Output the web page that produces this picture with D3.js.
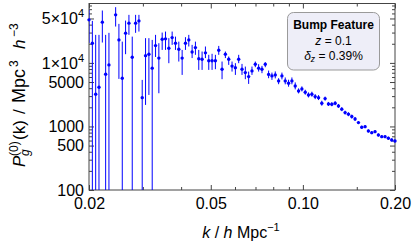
<!DOCTYPE html>
<html><head><meta charset="utf-8">
<script src="https://cdn.jsdelivr.net/npm/d3@7"></script>
<style>
body{margin:0;background:#fff}
svg{display:block}
text{font-family:"Liberation Sans",Arial,Helvetica,sans-serif}
</style>
</head><body>
<svg id="chart" width="413" height="243"></svg>
<script>
// ---------- data ----------
const kValues = [0.02000,0.02051,0.02103,0.02156,0.02211,0.02267,0.02324,0.02444,0.02505,0.02569,
0.02634,0.02701,0.02769,0.02840,0.02912,0.02985,0.03061,0.03139,0.03218,0.03300,
0.03383,0.03469,0.03557,0.03647,0.03739,0.03834,0.03931,0.04031,0.04133,0.04238,
0.04345,0.04455,0.04568,0.04684,0.04803,0.04925,0.05049,0.05177,0.05309,0.05443,
0.05581,0.05723,0.05868,0.06017,0.06169,0.06325,0.06485,0.06649,0.06818,0.06991,
0.07168,0.07350,0.07536,0.07727,0.07923,0.08124,0.08330,0.08541,0.08757,0.08979,
0.09207,0.09440,0.09680,0.09925,0.1018,0.1043,0.1070,0.1097,0.1125,0.1153,
0.1182,0.1212,0.1243,0.1275,0.1307,0.1340,0.1374,0.1409,0.1445,0.1481,
0.1519,0.1557,0.1597,0.1637,0.1679,0.1721,0.1765,0.1810,0.1856,0.1903,
0.1951,0.2000];
const power = [47550,20420,3210,4140,43750,6640,9300,57000,23000,5740,
29400,42200,12300,42200,45800,2840,13000,13700,8260,18700,
11900,23600,23900,17000,25000,20400,16400,11900,20400,23000,
14800,17400,11600,11400,14400,10800,10800,10800,15800,7960,
13700,11400,8900,8400,11400,7960,7040,6090,7480,9540,
8260,7960,9540,6590,6240,6470,5210,6240,5210,4790,
5210,4340,3620,3900,3460,3130,3210,2950,2840,2320,
2740,2260,2240,2320,2100,1870,1650,1560,1430,1310,
1150,971,993,849,799,828,735,691,691,652,
613,591];
const errHigh = [68400,45800,27600,27600,66700,27600,29700,75300,41100,21600,
46300,57000,25900,57000,57000,5400,24500,24500,23000,27600,
20400,30000,31100,24500,31100,25900,21600,16000,25400,27600,
19200,21600,16000,15100,18100,13400,13900,13400,18500,10500,
15100,12600,10500,9890,13400,9640,8750,7300,8750,10500,
9540,8980,10250,7570,7040,7340,5740,7040,5900,5430,
5900,4930,3970,4270,3780,3430,3520,3230,3110,2540,
2950,2430,2400,2490,2260,2010,1770,1670,1530,1410,
1210,1025,1050,895,845,875,775,730,730,690,
648,625];
const errLow = [20650,0,0,0,20900,0,0,37300,5600,0,
13700,27600,0,29700,31100,0,2180,3130,0,12400,
3330,16000,16000,9890,19200,16000,10500,6470,16000,18100,
11900,13400,7760,7760,11900,7760,7760,7960,13400,5540,
11900,9300,7300,6470,9890,6470,5540,4670,6470,8550,
7300,6890,8550,5740,5400,5700,4620,5500,4600,4220,
4600,3830,3310,3560,3160,2860,2940,2690,2600,2120,
2550,2100,2080,2160,1960,1740,1540,1450,1330,1220,
1090,920,940,805,755,785,695,655,655,618,
580,560];

const xTickMajor = [0.02, 0.05, 0.10, 0.20];
const xTickLabels = ["0.02", "0.05", "0.10", "0.20"];
const xTickMinor = [0.03, 0.04, 0.06, 0.07, 0.08, 0.09, 0.15];
const yTickMajor = [100, 500, 1000, 5000, 10000, 50000];
const yTickLabels = ["100", "500", "1000", "5000", "1×10^4", "5×10^4"];
const yTickMinor = [200,300,400,600,700,800,900,2000,3000,4000,6000,7000,8000,9000,20000,30000,40000,60000,70000,80000];

const legendTitle = "Bump Feature";
const legendRedshift = "0.1";
const legendDelta = "0.39%";

// ---------- layout ----------
const L = 89, R = 395, T = 3.5, B = 190;
const svg = d3.select("#chart");
const x = d3.scaleLog().domain([0.02, 0.2]).range([L, R]);
const y = d3.scaleLog().domain([100, 86000]).range([B, T]);
const col = "#0000ff";
const frameCol = "#444";

function styleAxis(g){
  g.select(".domain").remove();
  g.selectAll(".tick line").attr("stroke", frameCol);
  g.selectAll(".tick text").attr("fill", "#000").attr("font-size", 16)
    .attr("font-family", '"Liberation Sans",Arial,sans-serif');
}
svg.append("g").attr("transform", `translate(0,${B})`)
  .call(d3.axisBottom(x).tickValues(xTickMajor).tickFormat((d,i)=>xTickLabels[i])
    .tickSizeInner(-5).tickSizeOuter(0).tickPadding(8)).call(styleAxis);
svg.append("g").attr("transform", `translate(0,${B})`)
  .call(d3.axisBottom(x).tickValues(xTickMinor).tickFormat("")
    .tickSizeInner(-3).tickSizeOuter(0)).call(styleAxis);
svg.append("g").attr("transform", `translate(0,${T})`)
  .call(d3.axisTop(x).tickValues(xTickMajor).tickFormat("")
    .tickSizeInner(-5).tickSizeOuter(0)).call(styleAxis);
svg.append("g").attr("transform", `translate(0,${T})`)
  .call(d3.axisTop(x).tickValues(xTickMinor).tickFormat("")
    .tickSizeInner(-3).tickSizeOuter(0)).call(styleAxis);

const leftAx = svg.append("g").attr("transform", `translate(${L},0)`)
  .call(d3.axisLeft(y).tickValues(yTickMajor).tickFormat((d,i)=>yTickLabels[i])
    .tickSizeInner(-5).tickSizeOuter(0).tickPadding(5)).call(styleAxis);
leftAx.selectAll(".tick text").each(function(d,i){
  const s = yTickLabels[i];
  if (s.includes("^")) {
    const [base, exp] = s.split("^");
    const t = d3.select(this).text(null);
    t.append("tspan").text(base);
    t.append("tspan").attr("font-size", 11).attr("dy", -7).text(exp);
  }
});
svg.append("g").attr("transform", `translate(${L},0)`)
  .call(d3.axisLeft(y).tickValues(yTickMinor).tickFormat("")
    .tickSizeInner(-3).tickSizeOuter(0)).call(styleAxis);
svg.append("g").attr("transform", `translate(${R},0)`)
  .call(d3.axisRight(y).tickValues(yTickMajor).tickFormat("")
    .tickSizeInner(-5).tickSizeOuter(0)).call(styleAxis);
svg.append("g").attr("transform", `translate(${R},0)`)
  .call(d3.axisRight(y).tickValues(yTickMinor).tickFormat("")
    .tickSizeInner(-3).tickSizeOuter(0)).call(styleAxis);

// frame
svg.append("rect").attr("x", L).attr("y", T).attr("width", R-L).attr("height", B-T)
  .attr("fill", "none").attr("stroke", frameCol).attr("stroke-width", 1);

// data
svg.append("clipPath").attr("id","clip").append("rect")
  .attr("x", L).attr("y", T).attr("width", R-L).attr("height", B-T);
const pts = kValues.map((k,i)=>({k, p:power[i], lo:errLow[i], hi:errHigh[i]}));
svg.append("g").attr("clip-path","url(#clip)").selectAll("line").data(pts).join("line")
  .attr("x1", d=>x(d.k)).attr("x2", d=>x(d.k))
  .attr("y1", d=>y(Math.min(d.hi, 86000)))
  .attr("y2", d=> d.lo > 100 ? y(d.lo) : B + 2)
  .attr("stroke", col).attr("stroke-width", 1);
svg.append("g").selectAll("circle").data(pts).join("circle")
  .attr("cx", d=>x(d.k)).attr("cy", d=>y(d.p)).attr("r", 1.7).attr("fill", col);

// legend
const lg = svg.append("g");
lg.append("rect").attr("x", 287.5).attr("y", 12.5).attr("width", 92).attr("height", 57.5)
  .attr("rx", 6).attr("fill", "#eeeef8").attr("stroke", "#9a9a9a").attr("stroke-width", 1);
lg.append("text").attr("x", 333.5).attr("y", 29).attr("text-anchor","middle")
  .attr("font-size", 12).attr("font-weight","bold").text(legendTitle);
const t2 = lg.append("text").attr("x", 333.5).attr("y", 45).attr("text-anchor","middle").attr("font-size", 12);
t2.append("tspan").attr("font-style","italic").text("z");
t2.append("tspan").text(" = " + legendRedshift);
const t3 = lg.append("text").attr("x", 333.5).attr("y", 60).attr("text-anchor","middle").attr("font-size", 12);
t3.append("tspan").attr("font-style","italic").text("δ");
t3.append("tspan").attr("font-style","italic").attr("font-size", 8.5).attr("dy", 2).text("z");
t3.append("tspan").attr("dy", -2).text(" = " + legendDelta);

// x label
const xl = svg.append("text").attr("x", 241).attr("y", 238).attr("text-anchor","middle").attr("font-size", 16);
xl.append("tspan").attr("font-style","italic").text("k");
xl.append("tspan").text(" / ");
xl.append("tspan").attr("font-style","italic").text("h");
xl.append("tspan").text(" Mpc");
xl.append("tspan").attr("font-size", 11).attr("dy", -7).text("−1");

// y label (rotated); offsets measured along the label from its start
const yl = svg.append("g").attr("transform", "translate(25,167) rotate(-90)");
function piece(txt, pos, opts){
  yl.append("text").attr("x", pos).attr("y", opts.dy||0)
    .attr("font-size", opts.size||17).attr("font-style", opts.italic?"italic":"normal").text(txt);
}
piece("P", 0, {italic:true});
piece("(0)", 11, {size:12, dy:-7.5});
piece("g", 11, {size:12, dy:4, italic:true});
piece("(k)", 27, {});
piece("/", 53, {});
piece("Mpc", 64, {size:18});
piece("3", 100, {size:12, dy:-7.5});
piece("h", 118, {italic:true});
piece("−3", 130, {size:12, dy:-7.5});
</script>
</body></html>
